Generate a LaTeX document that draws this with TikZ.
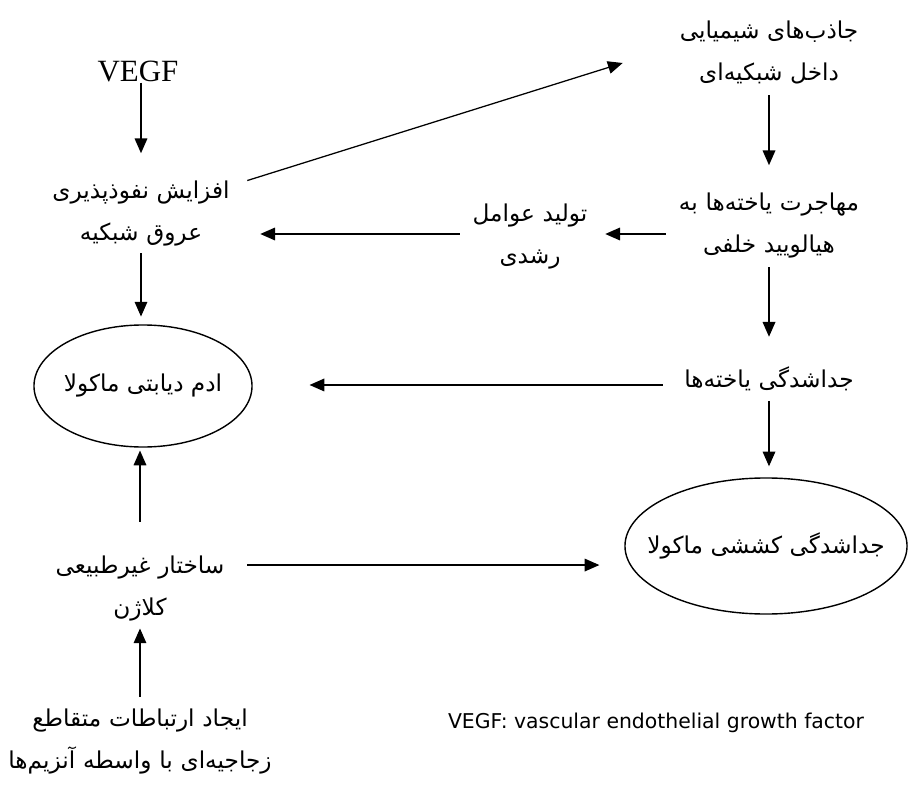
\documentclass[tikz,border=0pt]{standalone}
\usepackage{fontspec}
\setmainfont{Liberation Serif}
\newfontfamily\farsi[Script=Arabic]{DejaVu Sans}
\newfontfamily\latinsans{DejaVu Sans}
\usetikzlibrary{arrows.meta, shapes.geometric}
\TeXXeTstate=1
\newcommand{\zw}{^^^^200c}
\newcommand{\ligne}[1]{\strut\beginR #1\endR}

\begin{document}
\begin{tikzpicture}[x=0.025cm, y=-0.025cm,
    texte/.style={align=center, inner sep=0pt, text width=#1,
      font=\farsi\fontsize{16.5}{30}\selectfont},
    texte/.default=5cm,
    bulle/.style={draw, ellipse, line width=1pt, inner ysep=0pt, inner xsep=-20pt,
      font=\farsi\fontsize{16.5}{30}\selectfont},
    fleche/.style={line width=0.9pt, -{Triangle[length=10.5pt, width=9pt]}}]
  \useasboundingbox (0,0) rectangle (908,794);

  % Noeuds
  \node[inner sep=0pt, anchor=base, font=\fontsize{22}{26}\selectfont] (vegf) at (138,82) {VEGF};
  \node[texte] (permea) at (141,211) {\ligne{افزایش نفوذپذیری}\\\ligne{عروق شبکیه}};
  \node[texte] (chemo) at (769,51) {\ligne{جاذب\zw های شیمیایی}\\\ligne{داخل شبکیه\zw ای}};
  \node[texte] (migr) at (769,223) {\ligne{مهاجرت یاخته\zw ها به}\\\ligne{هیالویید خلفی}};
  \node[texte=3.2cm] (growth) at (530,234) {\ligne{تولید عوامل}\\\ligne{رشدی}};
  \node[texte=5.3cm] (sep) at (769,379.5) {\ligne{جداشدگی یاخته\zw ها}};
  \node[bulle, minimum width=5.45cm, minimum height=3.05cm] (oedema) at (143,386) {\beginR ادم دیابتی ماکولا\endR};
  \node[bulle, minimum width=7.05cm, minimum height=3.4cm] (tract) at (766,546) {\beginR جداشدگی کششی ماکولا\endR};
  \node[texte=5.35cm] (collagen) at (140,586) {\ligne{ساختار غیرطبیعی}\\\ligne{کلاژن}};
  \node[texte=8cm] (crosslink) at (140,739) {\ligne{ایجاد ارتباطات متقاطع}\\\ligne{زجاجیه\zw ای با واسطه آنزیم\zw ها}};
  \node[inner sep=0pt, font=\latinsans\fontsize{14.5}{17}\selectfont] (note) at (656,723) {VEGF: vascular endothelial growth factor};

  % Fleches
  \draw[fleche, shorten >=10.9pt] (vegf.south -| permea) -- (permea);
  \draw[fleche] ([shift={(6,12)}]permea.north east) -- ([shift={(-46,12)}]chemo.west);
  \draw[fleche, shorten <=1.4pt, shorten >=10.9pt] (chemo) -- (migr);
  \draw[fleche, shorten <=2pt, shorten >=7.8pt] (migr.west |- growth.east) -- (growth.east);
  \draw[fleche, shorten <=4.2pt, shorten >=13.5pt] (growth.west) -- (permea.east |- growth.west);
  \draw[fleche, shorten >=5.5pt] (permea.south) -- (permea.south |- oedema.north);
  \draw[fleche, shorten <=1.4pt, shorten >=15.2pt] (migr) -- (sep);
  \coordinate (s1) at ([yshift=-3.9pt]sep.west);
  \draw[fleche, shorten >=40.4pt] (s1) -- (s1 -| oedema.east);
  \draw[fleche, shorten >=7.8pt] (sep) -- (sep |- tract.north);
  \draw[fleche, shorten <=15.4pt, shorten >=2pt] (collagen) -- (collagen |- oedema.south);
  \coordinate (c1) at ([yshift=14.9pt]collagen.east);
  \draw[fleche, shorten >=17.7pt] (c1) -- (c1 -| tract.west);
  \draw[fleche] (crosslink) -- (collagen);
\end{tikzpicture}
\end{document}
